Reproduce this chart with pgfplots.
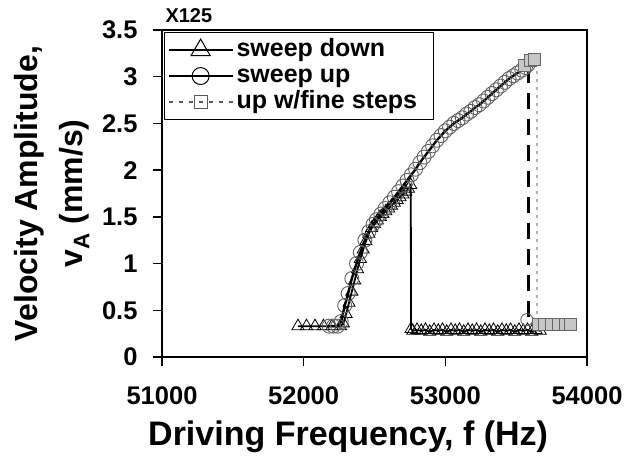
\documentclass[border=0pt]{standalone}
\usepackage{fontspec}
\setmainfont{Liberation Sans}
\usepackage{pgfplots}
\pgfplotsset{compat=1.18}
\begin{document}
\begin{tikzpicture}
\begin{axis}[
  at={(0,0)}, anchor=south west,
  scale only axis, width=425pt, height=327pt,
  xmin=51000, xmax=54000, ymin=0, ymax=3.5,
  scaled x ticks=false, scaled y ticks=false,
  xtick={51000,52000,53000,54000},
  xticklabels={51000,52000,53000,54000},
  ytick={0,0.5,1,1.5,2,2.5,3,3.5},
  yticklabels={0,0.5,1,1.5,2,2.5,3,3.5},
  xtick pos=bottom, ytick pos=left,
  tick align=outside, major tick length=9pt,
  tick style={black, line width=1.5pt},
  axis line style={line width=1.6pt},
  ticklabel style={font=\fontsize{25.5}{30}\selectfont\bfseries},
  yticklabel style={xshift=-12pt},
  xticklabel style={yshift=-17pt},
  xlabel={Driving Frequency, f (Hz)},
  xlabel style={at={(axis description cs:0.438,0)}, anchor=base, yshift=-88pt, font=\fontsize{34}{40}\selectfont\bfseries},
  ylabel={Velocity Amplitude,\\v\textsubscript{A} (mm/s)},
  ylabel style={at={(axis description cs:-0.259,0.5)}, anchor=center, align=center, font=\fontsize{32}{45}\selectfont\bfseries},
  legend style={at={(axis description cs:0.005,0.994)}, anchor=north west, draw=black, line width=1.2pt,
    font=\fontsize{25}{28}\selectfont\bfseries, row sep=1pt, inner xsep=3pt, inner ysep=5pt,
    nodes={inner xsep=3pt, inner ysep=1pt, text height=18pt, text depth=5pt}},
  legend cell align=left,
  legend image code/.code={\draw[mark repeat=2,mark phase=2] plot coordinates {(0pt,0pt) (32pt,0pt) (64pt,0pt)};},
  clip=false,
]
\addlegendimage{black, line width=1.8pt, mark=triangle, mark size=11pt, mark options={line width=1pt, solid}}
\addlegendentry{sweep down}
\addlegendimage{black, line width=1.8pt, mark=o, mark size=8.5pt, mark options={line width=1pt, solid}}
\addlegendentry{sweep up}
\addlegendimage{gray!70!black, line width=1.2pt, dash pattern=on 4pt off 6pt, mark=square, mark size=6.5pt, mark options={line width=1pt, solid}}
\addlegendentry{up w/fine steps\kern10pt}

% sweep down
\addplot[forget plot, black, line width=1.8pt, mark=triangle, mark size=7pt, mark options={line width=0.8pt, solid}] coordinates {
(53670,0.28) (53640,0.29) (53610,0.27) (53580,0.29) (53550,0.28) (53520,0.29) (53490,0.27) (53460,0.29)
(53430,0.28) (53400,0.29) (53370,0.27) (53340,0.29) (53310,0.28) (53280,0.29) (53250,0.27) (53220,0.29)
(53190,0.28) (53160,0.29) (53130,0.27) (53100,0.29) (53070,0.28) (53040,0.29) (53010,0.27) (52980,0.29)
(52950,0.28) (52920,0.29) (52890,0.27) (52860,0.29) (52830,0.28) (52800,0.29) (52770,0.28) (52758,0.30)
(52756,1.84) (52740,1.80) (52720,1.77) (52700,1.74) (52680,1.71) (52660,1.68) (52640,1.65) (52620,1.62)
(52600,1.59) (52580,1.56) (52560,1.53) (52540,1.50) (52520,1.46) (52500,1.42) (52480,1.38) (52460,1.32)
(52440,1.24) (52420,1.15) (52400,1.05) (52380,0.94) (52360,0.82) (52340,0.70) (52320,0.58) (52300,0.46)
(52280,0.36) (52260,0.33) (52200,0.33) (52140,0.33) (52080,0.33) (52020,0.33) (51960,0.33)
};

% sweep up
\addplot[forget plot, black, line width=2.4pt, mark=o, mark size=7pt, mark options={draw=gray!75!black, line width=0.9pt, solid}] coordinates {
(52180,0.33) (52210,0.33) (52240,0.33) (52265,0.38) (52290,0.55) (52314,0.68) (52340,0.84) (52373,1.00)
(52400,1.12) (52432,1.25) (52460,1.34) (52490,1.42) (52514,1.47) (52545,1.53) (52575,1.59) (52608,1.65)
(52640,1.71) (52670,1.77) (52700,1.83) (52730,1.89) (52760,1.95) (52790,2.01) (52820,2.08) (52850,2.14)
(52880,2.20) (52910,2.26) (52940,2.32) (52970,2.37) (53000,2.42) (53030,2.46) (53060,2.50) (53090,2.53)
(53120,2.56) (53150,2.60) (53180,2.63) (53210,2.67) (53240,2.70) (53270,2.74) (53300,2.78) (53330,2.82)
(53360,2.86) (53390,2.90) (53420,2.94) (53450,2.98) (53480,3.01) (53510,3.04) (53540,3.07) (53565,3.10)
(53585,3.13)
};
% jump of sweep up (long dashes)
\addplot[forget plot, black, line width=2.6pt, dash pattern=on 16pt off 10pt] coordinates {(53585,3.10) (53585,0.38)};
\addplot[forget plot, only marks, mark=o, mark size=6pt, mark options={draw=gray!75!black, line width=0.9pt}] coordinates {(53575,0.40)};

% up with fine steps
\addplot[forget plot, gray!60, line width=2pt, dash pattern=on 3pt off 5pt] coordinates {(53644,3.15) (53644,0.35)};
\addplot[forget plot, only marks, mark=square*, mark size=6pt, mark options={draw=gray!80!black, fill=gray!45, line width=0.9pt}] coordinates {
(53560,3.12) (53600,3.17) (53630,3.19)
(53660,0.35) (53700,0.35) (53750,0.35) (53800,0.35) (53850,0.35) (53880,0.35)
};
\node[anchor=base west, font=\fontsize{20}{24}\selectfont\bfseries] at (rel axis cs:0,1) [yshift=7pt] {X125};
\end{axis}
\pgfresetboundingbox
\path (-162pt,-98pt) rectangle (472pt,357pt);
\end{tikzpicture}
\end{document}
